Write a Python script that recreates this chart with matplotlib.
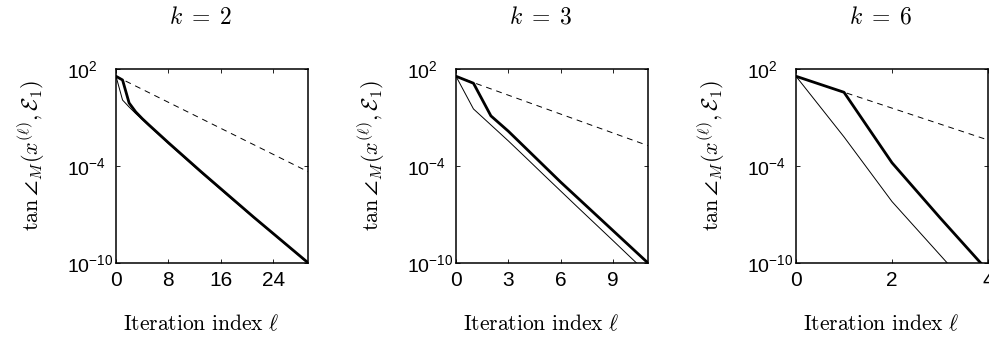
import numpy as np
import matplotlib
matplotlib.use("Agg")
import matplotlib.pyplot as plt

# sans tick labels (custom mathtext), computer-modern for the labels
plt.rcParams['font.family'] = ['Liberation Sans', 'DejaVu Sans']
plt.rcParams['mathtext.fontset'] = 'custom'
plt.rcParams['mathtext.rm'] = 'Liberation Sans'
plt.rcParams['mathtext.it'] = 'Liberation Sans:italic'
plt.rcParams['mathtext.bf'] = 'Liberation Sans:bold'

K_VALUES = [2, 3, 6]

# log10 of tan angle per iteration
iter_k2 = np.arange(31)
thick_k2 = [1.55, 1.32, -0.10, -0.65, -1.07, -1.45, -1.82, -2.19, -2.56, -2.92,
            -3.28, -3.64, -4.00, -4.36, -4.71, -5.06, -5.41, -5.76, -6.11, -6.46,
            -6.81, -7.16, -7.50, -7.84, -8.18, -8.52, -8.86, -9.20, -9.54, -9.88,
            -10.22]
thin_k2 = [1.55, 0.08, -0.35, -0.75, -1.12, -1.50, -1.87, -2.24, -2.61, -2.97,
           -3.33, -3.69, -4.05, -4.41, -4.76, -5.11, -5.46, -5.81, -6.16, -6.50,
           -6.85, -7.19, -7.53, -7.87, -8.21, -8.55, -8.89, -9.23, -9.57, -9.91,
           -10.25]
bound_x_k2 = [0, 30]
bound_k2 = [1.55, -4.49]

iter_k3 = np.arange(12)
thick_k3 = [1.55, 1.12, -0.90, -1.85, -2.90, -3.95, -5.00, -6.00, -7.00, -8.00,
            -9.00, -10.00]
thin_k3 = [1.55, -0.47, -1.46, -2.45, -3.48, -4.52, -5.55, -6.58, -7.60, -8.62,
           -9.65, -10.67]
bound_x_k3 = [0, 11]
bound_k3 = [1.55, -2.74]

iter_k6 = np.arange(5)
thick_k6 = [1.55, 0.56, -3.80, -7.20, -10.50]
thin_k6 = [1.55, -2.20, -6.20, -9.50, -12.80]
bound_x_k6 = [0, 4]
bound_k6 = [1.55, -2.39]

XMAX = [29.3, 11, 4]
XTICKS = [[0, 8, 16, 24], [0, 3, 6, 9], [0, 2, 4]]
YTICKS = [1e2, 1e-4, 1e-10]
YTICKLABELS = [r'$10^{2}$', r'$10^{-4}$', r'$10^{-10}$']

YLABEL = r'$\tan\angle_M(x^{(\ell)},\mathcal{E}_1)$'
XLABEL = r'$\mathrm{Iteration\ index}\ \ell$'

W, H = 989, 337
AX_LEFT_PX = [116, 456, 796]
AX_W_PX = 192
AX_TOP_PX, AX_BOT_PX = 69, 263

data = [
    (iter_k2, thick_k2, thin_k2, bound_x_k2, bound_k2),
    (iter_k3, thick_k3, thin_k3, bound_x_k3, bound_k3),
    (iter_k6, thick_k6, thin_k6, bound_x_k6, bound_k6),
]

fig = plt.figure(figsize=(W / 100, H / 100), dpi=100)

for i, (its, thick, thin, bx, bnd) in enumerate(data):
    rect = [AX_LEFT_PX[i] / W, (H - AX_BOT_PX) / H, AX_W_PX / W,
            (AX_BOT_PX - AX_TOP_PX) / H]
    ax = fig.add_axes(rect)
    ax.plot(its, 10.0 ** np.array(thin), color='k', lw=0.7)
    ax.plot(bx, 10.0 ** np.array(bnd), color='k', lw=0.7, ls=(0, (6, 5)))
    ax.plot(its, 10.0 ** np.array(thick), color='k', lw=2.0)

    ax.set_yscale('log')
    ax.set_ylim(1e-10, 1e2)
    ax.set_xlim(0, XMAX[i])
    ax.set_xticks(XTICKS[i])
    ax.set_xticklabels([str(t) for t in XTICKS[i]], fontsize=15)
    ax.set_yticks(YTICKS)
    ax.set_yticklabels(YTICKLABELS, fontsize=14, ha='left')
    ax.minorticks_off()
    ax.tick_params(direction='in', top=True, right=True, length=3, width=0.6)
    ax.tick_params(axis='y', pad=35)
    ax.tick_params(axis='x', pad=6)
    for s in ax.spines.values():
        s.set_linewidth(1.1)

    ax.text(0.44, 1.263, r'$k \;=\; %d$' % K_VALUES[i], transform=ax.transAxes,
            ha='center', va='center', fontsize=17, math_fontfamily='cm')
    ax.text(0.44, -0.32, XLABEL, transform=ax.transAxes, ha='center',
            va='center', fontsize=15.5, math_fontfamily='cm')
    ax.text(-0.44, 0.557, YLABEL, transform=ax.transAxes, ha='center',
            va='center', rotation=90, fontsize=16, math_fontfamily='cm')

fig.savefig('out.png', dpi=100)
